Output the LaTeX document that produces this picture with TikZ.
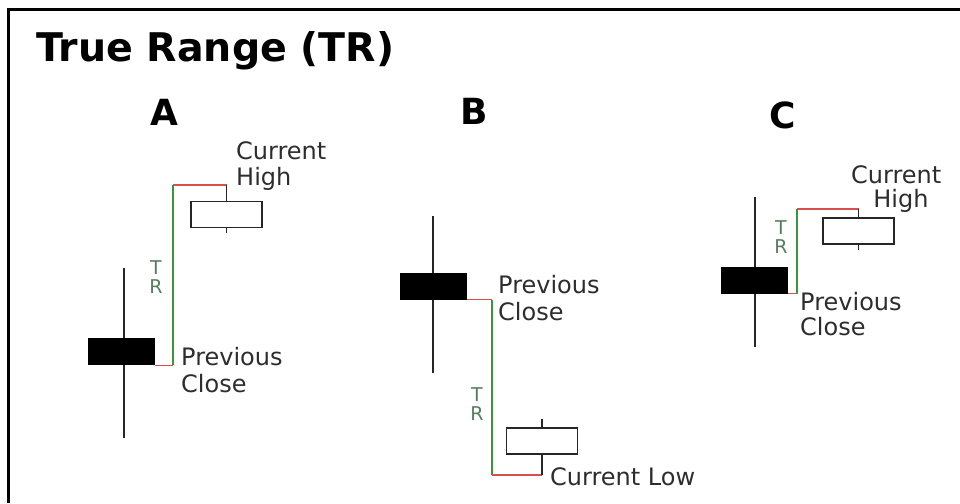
\documentclass[tikz,border=0pt]{standalone}
\usepackage{fontspec}
\setmainfont{DejaVu Sans}
\usepackage{tikz}
\usetikzlibrary{calc}

\definecolor{trred}{RGB}{215,80,80}
\definecolor{trgreen}{RGB}{60,150,60}
\definecolor{trtext}{RGB}{85,125,95}
\definecolor{lbltext}{RGB}{45,45,45}

\begin{document}
\begin{tikzpicture}[x=1pt,y=-1pt]
\tikzstyle{prev}=[rectangle, fill=black, inner sep=0pt, minimum width=67pt, minimum height=27pt]
\tikzstyle{curr}=[rectangle, draw=black!85, line width=1.6pt, fill=white, inner sep=0pt, minimum width=71pt, minimum height=26pt]
\tikzstyle{wick}=[draw=black!85, line width=1.8pt]
\tikzstyle{redline}=[draw=trred, line width=1.4pt]
\tikzstyle{greenline}=[draw=trgreen, line width=1.4pt]
\tikzstyle{lbl}=[inner sep=0pt, anchor=base west, text=lbltext, font=\fontsize{24}{27}\selectfont]
\tikzstyle{trlbl}=[inner sep=0pt, anchor=north, align=center, text=trtext, font=\fontsize{19}{19}\selectfont]
\tikzstyle{head}=[inner sep=0pt, anchor=base, font=\fontsize{36}{38}\selectfont\bfseries]
\useasboundingbox (0,0) rectangle (960,503);
\draw[line width=3.5pt] (8.5,503) -- (8.5,9.5) -- (960,9.5);
\node[inner sep=0pt, anchor=base west, font=\fontsize{39.5}{42}\selectfont\bfseries] (title) at (36,62) {True Range (TR)};
\foreach \name/\x/\y in {A/164/125, B/474/124, C/783/128}
    \node[head] (h\name) at (\x,\y) {\name};
% previous candles
\foreach \name/\w/\x/\y/\top/\bot in {A/124/121.5/351.5/268/438, B/433/433.5/286/216/373, C/755/754.5/280/197/347}
       {
        \coordinate (wt\name) at (\w,\top);
        \coordinate (wb\name) at (\w,\bot);
        \path[wick] (wt\name) -- (wb\name);
        \node[prev] (p\name) at (\x,\y) {};
       }
% current candles
\foreach \name/\x/\y in {A/226.5/214.5, B/542/441, C/858.5/231}
    \node[curr] (c\name) at (\x,\y) {};
\coordinate (tA) at (173,185);
\coordinate (tB) at (492,475);
\coordinate (tC) at (797,209);
\foreach \name in {A,C}
       {
        \path[redline] (p\name.south east) -- (p\name.south east -| t\name);
        \path[greenline] (p\name.south east -| t\name) -- (t\name);
        \path[redline] (t\name) -- (t\name -| c\name.north);
        \path[wick] (t\name -| c\name.north) -- (c\name.north);
        \path[wick] (c\name.south) -- ++(0,5);
       }
\path[redline] (pB.south east) -- (pB.south east -| tB);
\path[greenline] (pB.south east -| tB) -- (tB);
\path[redline] (tB) -- (tB -| cB.south);
\path[wick] (tB -| cB.south) -- (cB.south);
\path[wick] (cB.north) -- ++(0,-8);
\foreach \name/\x/\y in {A/156/260, B/477/387, C/781/220}
    \node[trlbl] (tr\name) at (\x,\y) {T\\R};
% labels
\node[lbl] (chA1) at (236,159) {Current};
\node[lbl] (chA2) at (236,185) {High};
\node[lbl] (pcA1) at (181,365) {Previous};
\node[lbl] (pcA2) at (181,392) {Close};
\node[lbl] (pcB1) at (498,293) {Previous};
\node[lbl] (pcB2) at (498,320) {Close};
\node[lbl] (clB) at (550,485) {Current Low};
\node[lbl] (chC1) at (851,183) {Current};
\node[lbl, anchor=base] (chC2) at (901,207) {High};
\node[lbl] (pcC1) at (800,310) {Previous};
\node[lbl] (pcC2) at (800,335) {Close};
\end{tikzpicture}
\end{document}
